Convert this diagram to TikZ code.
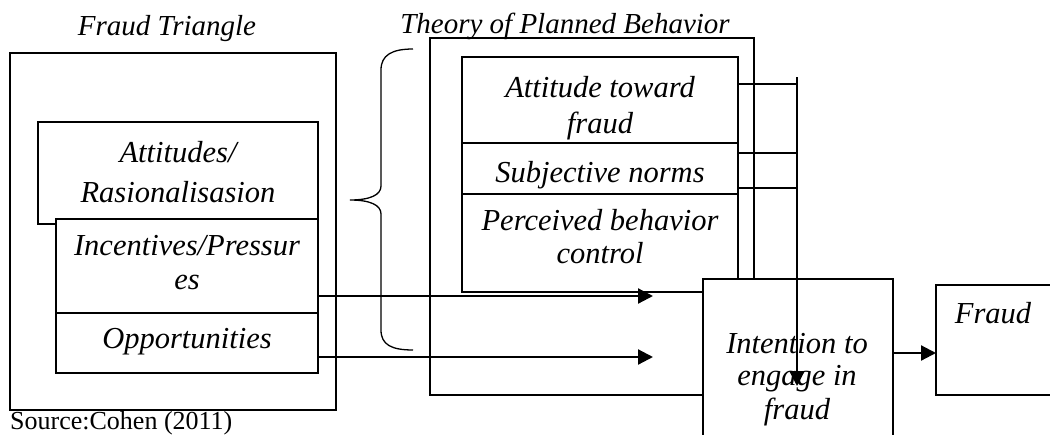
\documentclass[tikz,border=0pt]{standalone}
\usepackage{fontspec}
\setmainfont{Liberation Serif}
\usetikzlibrary{arrows.meta}
\begin{document}
\begin{tikzpicture}[x=1pt,y=-1pt,
 box/.style={draw, line width=1.3pt, inner sep=0pt, outer sep=0pt, rectangle, fill=white},
 lbl/.style={inner sep=0pt, anchor=base, font=\fontsize{30.5}{36}\selectfont\itshape},
 ttl/.style={inner sep=0pt, anchor=base, font=\fontsize{29}{34}\selectfont\itshape},
 src/.style={inner sep=0pt, anchor=base west, font=\fontsize{26}{31}\selectfont},
 arr/.style={line width=2.2pt, -{Triangle[length=15pt,width=15pt]}},
 link/.style={line width=2.2pt},
 thinlink/.style={line width=1.3pt}]
\clip (0,0) rectangle (1050,434);
\fill[white] (0,0) rectangle (1050,434);
% Fraud triangle
\node[box, minimum width=326pt, minimum height=357pt] (ft) at (173,231.5) {};
\node[box, minimum width=280pt, minimum height=102pt] (att) at (178,173) {};
\node[box, minimum width=262pt, minimum height=94pt] (inc) at (187,266) {};
\node[box, minimum width=262pt, minimum height=60pt] (opp) at (187,343) {};
% brace
\draw[line width=1.3pt] (413,49) .. controls (392,49) and (381,55) .. (381,70) -- (381,186)
  .. controls (381,195) and (370,200) .. (350,200)
  .. controls (370,200) and (381,205) .. (381,214) -- (381,330)
  .. controls (381,345) and (392,350) .. (413,350);
% TPB
\node[box, minimum width=324pt, minimum height=357pt] (tpb) at (592,216.5) {};
\node[box, minimum width=276pt, minimum height=86pt] (atf) at (600,100) {};
\node[box, minimum width=276pt, minimum height=51pt] (sn) at (600,168.5) {};
\node[box, minimum width=276pt, minimum height=98pt] (pbc) at (600,243) {};
% Intention and Fraud
\node[box, minimum width=190pt, minimum height=171pt] (int) at (798,364.5) {};
\node[box, minimum width=124pt, minimum height=110pt] (fr) at (998,340) {};
% titles
\node[ttl] (tft) at (167,35) {Fraud Triangle};
\node[ttl] (ttpb) at (565,33) {Theory of Planned Behavior};
% labels
\node[lbl] (t1) at (178,162) {Attitudes/};
\node[lbl] (t2) at (178,202) {Rasionalisasion};
\node[lbl] (t3) at (187,255) {Incentives/Pressur};
\node[lbl] (t4) at (187,289) {es};
\node[lbl] (t5) at (187,348) {Opportunities};
\node[lbl] (t6) at (600,97) {Attitude toward};
\node[lbl] (t7) at (600,133) {fraud};
\node[lbl] (t8) at (600,182) {Subjective norms};
\node[lbl] (t9) at (600,230) {Perceived behavior};
\node[lbl] (t10) at (600,263) {control};
\node[lbl] (t11) at (797,353) {Intention to};
\node[lbl] (t12) at (797,385) {engage in};
\node[lbl] (t13) at (797,419) {fraud};
\node[lbl] (t14) at (993,323) {Fraud};
\node[src] (source) at (10,429) {Source:Cohen (2011)};
% connectors
\coordinate (a1) at (653,296);
\coordinate (a2) at (653,357);
\coordinate (bus) at (797,77);
\coordinate (busend) at (797,386);
\draw[arr] ([yshift=-30pt]inc.east) -- (a1);
\draw[arr] ([yshift=-14pt]opp.east) -- (a2);
\draw[arr] ([yshift=11.5pt]int.east) -- ([yshift=-13pt]fr.west);
\draw[link] ([yshift=16pt]atf.east) -- ([yshift=16pt]atf.east -| bus);
\draw[link] ([yshift=15.5pt]sn.east) -- ([yshift=15.5pt]sn.east -| bus);
\draw[thinlink] ([yshift=-19.5pt]sn.east) -- ([yshift=-19.5pt]sn.east -| bus);
\draw[arr] (bus) -- (busend);
\end{tikzpicture}
\end{document}
